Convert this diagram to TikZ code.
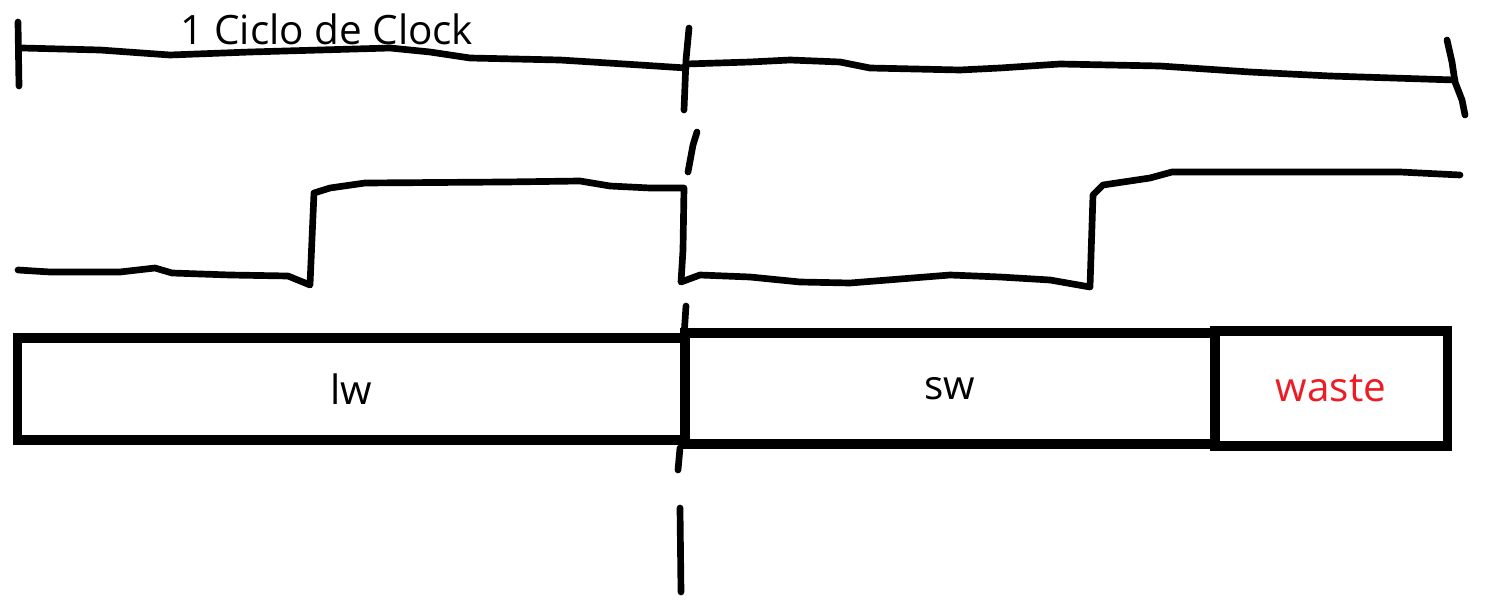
\documentclass[tikz,border=0pt]{standalone}
\usepackage{fontspec}
\setmainfont{Open Sans}
\definecolor{paintred}{RGB}{237,28,36}
\tikzset{
  pen/.style={line width=1.9pt, line cap=round, line join=round},
  slotbox/.style={draw, rectangle, line width=2.6pt, inner sep=0pt, font=\fontsize{11.5}{13}\selectfont},
  label/.style={inner sep=0pt, font=\fontsize{11.5}{13}\selectfont},
}
\begin{document}
\begin{tikzpicture}[x=0.01cm, y=-0.01cm]
\useasboundingbox (0,0) rectangle (1493,606);
% span of one clock cycle
\draw[pen] (18,22) -- (19,86);
\draw[pen] (22,48) -- (100,50) -- (170,55) -- (250,52) -- (390,48) -- (430,52)
  -- (470,58) -- (560,60) -- (640,65) -- (686,68);
\draw[pen] (686,64) -- (750,62) -- (790,60) -- (840,62) -- (870,68) -- (960,70)
  -- (1000,68) -- (1060,64) -- (1160,66) -- (1250,72) -- (1330,76) -- (1455,80);
\draw[pen] (1447,40) -- (1452,62) -- (1455,82) -- (1462,100) -- (1465,115);
\node[label] (title) at (327,29) {1 Ciclo de Clock};
% cycle boundary
\draw[pen] (689,28) -- (686,60) -- (684,110);
\draw[pen] (697,132) -- (693,145) -- (688,172);
\draw[pen] (686,306) -- (684,336);
\draw[pen] (680,448) -- (678,470);
\draw[pen] (680,508) -- (681,592);
% clock
\draw[pen] (18,270) -- (50,272) -- (120,272) -- (155,268) -- (172,273) -- (230,275)
  -- (288,276) -- (310,285) -- (314,193) -- (330,188) -- (365,183) -- (505,182)
  -- (580,181) -- (610,186) -- (650,188) -- (684,188) -- (683,250) -- (681,282)
  -- (700,275) -- (750,277) -- (800,282) -- (850,283) -- (900,279) -- (950,275)
  -- (1000,277) -- (1050,280) -- (1090,287) -- (1093,195) -- (1103,185)
  -- (1150,178) -- (1172,172) -- (1300,172) -- (1400,172) -- (1460,175);
% instruction slots
\node[slotbox, minimum width=6.67cm, minimum height=1.02cm] (lw) at (351.5,389) {lw};
\node[slotbox, minimum width=5.30cm, minimum height=1.11cm] (sw) at (950,388.5) {sw};
\node[slotbox, minimum width=2.32cm, minimum height=1.15cm, text=paintred] (waste) at (1331,388.5) {waste};
\end{tikzpicture}
\end{document}
